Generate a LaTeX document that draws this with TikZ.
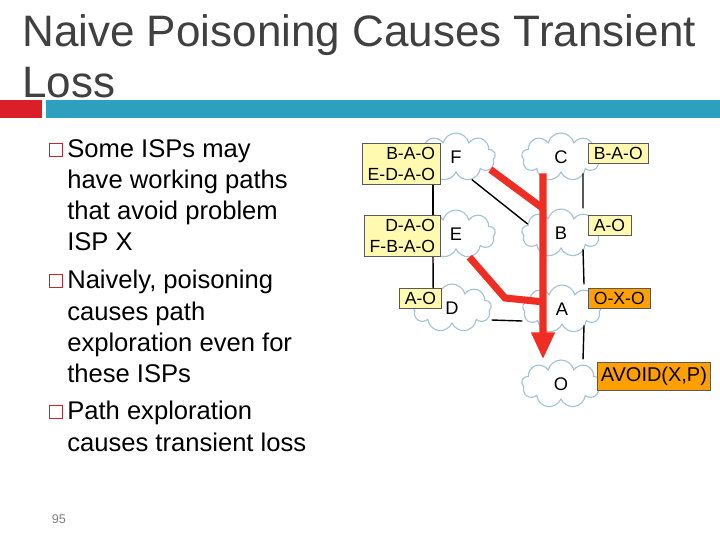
\documentclass[tikz,border=0pt]{standalone}
\usepackage{fontspec}
\setmainfont{Liberation Sans}
\usepackage{tikz}
\usetikzlibrary{arrows.meta,calc,shapes.symbols}
\usepackage{xcolor}
\definecolor{titlegray}{RGB}{64,64,64}
\definecolor{barred}{RGB}{220,30,40}
\definecolor{barblue}{RGB}{44,160,190}
\definecolor{bulletred}{RGB}{190,40,50}
\definecolor{tabyellow}{RGB}{255,250,175}
\definecolor{poisonorange}{RGB}{255,160,0}
\definecolor{cloudline}{RGB}{165,195,215}
\definecolor{arrowred}{RGB}{240,45,35}

\tikzset{
  isp/.style={cloud,cloud puffs=9,aspect=1.7,draw=cloudline,line width=0.8pt,fill=white,
    minimum width=1.97cm,minimum height=1.2cm,inner sep=0pt,
    font=\fontsize{13}{15}\selectfont},
  rtab/.style={draw=gray!70!black,fill=tabyellow,align=right,
    inner xsep=4pt,inner ysep=2.8pt,font=\fontsize{12.5}{15}\selectfont},
  poison/.style={rtab,fill=poisonorange},
  link/.style={black,line width=1pt},
  flow/.style={arrowred,line width=5pt},
  sqbullet/.style={draw=bulletred,line width=1pt,minimum size=0.33cm,inner sep=0pt},
  bullettext/.style={anchor=north west,align=left,inner sep=0pt,
    font=\fontsize{18.2}{22.2}\selectfont},
  titletext/.style={anchor=base west,inner sep=0pt,text=titlegray,
    font=\fontsize{31.3}{37}\selectfont}
}

\begin{document}
\begin{tikzpicture}[x=0.025cm,y=-0.025cm,>=Stealth]
    \useasboundingbox[fill=white] (0,0) rectangle (720,540);

    % Title
    \fill[barred] (0,100) rectangle (42,118);
    \fill[barblue] (46,100) rectangle (720,118);
    \node[titletext] (title1) at (22,46) {Naive Poisoning Causes Transient};
    \node[titletext] (title2) at (22,97) {Loss};

    % Bullets
    \node[sqbullet] (s1) at (56,150) {};
    \node[bullettext] (t1) at (67,139) {Some ISPs may\\have working paths\\that avoid problem\\ISP X};
    \node[sqbullet] (s2) at (56,281) {};
    \node[bullettext] (t2) at (67,270) {Naively, poisoning\\causes path\\exploration even for\\these ISPs};
    \node[sqbullet] (s3) at (56,412) {};
    \node[bullettext] (t3) at (67,401) {Path exploration\\causes transient loss};

    % Slide number
    \node[text=gray,font=\fontsize{9}{10}\selectfont] (num) at (59,519) {95};

    % Clouds
    \node[isp] (cF) at (456,157) {F};
    \node[isp] (cE) at (456,234) {E};
    \node[isp] (cD) at (452,308) {D};
    \node[isp] (cC) at (561,157) {C};
    \node[isp] (cB) at (561,233) {B};
    \node[isp] (cA) at (562,309) {A};
    \node[isp] (cO) at (561,384) {O};

    % Route tables
    \node[rtab,anchor=north east] (fbox) at (441,143) {B-A-O\\E-D-A-O};
    \node[rtab,anchor=north east] (ebox) at (441,215) {D-A-O\\F-B-A-O};
    \node[rtab,anchor=north east] (dbox) at (442,288) {A-O};
    \node[rtab,anchor=north west] (cbox) at (588,143) {B-A-O};
    \node[rtab,anchor=north west] (bbox) at (588,215) {A-O};
    \node[poison,anchor=north west] (abox) at (588,288) {O-X-O};
    \node[poison,anchor=north west,font=\fontsize{14.2}{16}\selectfont,
      inner xsep=2.5pt,inner ysep=3.5pt] (obox) at (597,362) {AVOID(X,P)};

    % Links
    \draw[link] ([xshift=-0.2cm]fbox.south east) -- ([xshift=-0.2cm]ebox.north east);
    \draw[link] ([xshift=-0.2cm]ebox.south east) -- ([xshift=-0.22cm]dbox.north east);
    \draw[link] ([yshift=-0.3cm]cD.east) -- ([yshift=-0.3cm]cA.west);
    \draw[link] (cF.-55) -- (cB.165);
    \draw[link] ([xshift=0.55cm]cC.south) -- ([xshift=0.55cm]cB.north);
    \draw[link] ([xshift=0.55cm]cB.south) -- ([xshift=0.55cm]cA.north);
    \draw[link] ([xshift=0.55cm]cA.south) -- ([xshift=0.55cm]cO.north);

    % Path exploration
    \coordinate (jb) at ([xshift=-0.45cm]cB.north);
    \coordinate (ja) at ([xshift=-0.45cm,yshift=0.175cm]cA.center);
    \coordinate (ebend) at (505,298);
    \draw[flow] (cF.-20) -- (jb);
    \draw[flow] (cE.-60) -- (ebend) -- (ja);
    \draw[flow,-{Triangle[length=0.675cm,width=0.55cm]}]
      ([xshift=-0.45cm]cC.south) -- ([xshift=-0.45cm]cO.north);
\end{tikzpicture}
\end{document}
